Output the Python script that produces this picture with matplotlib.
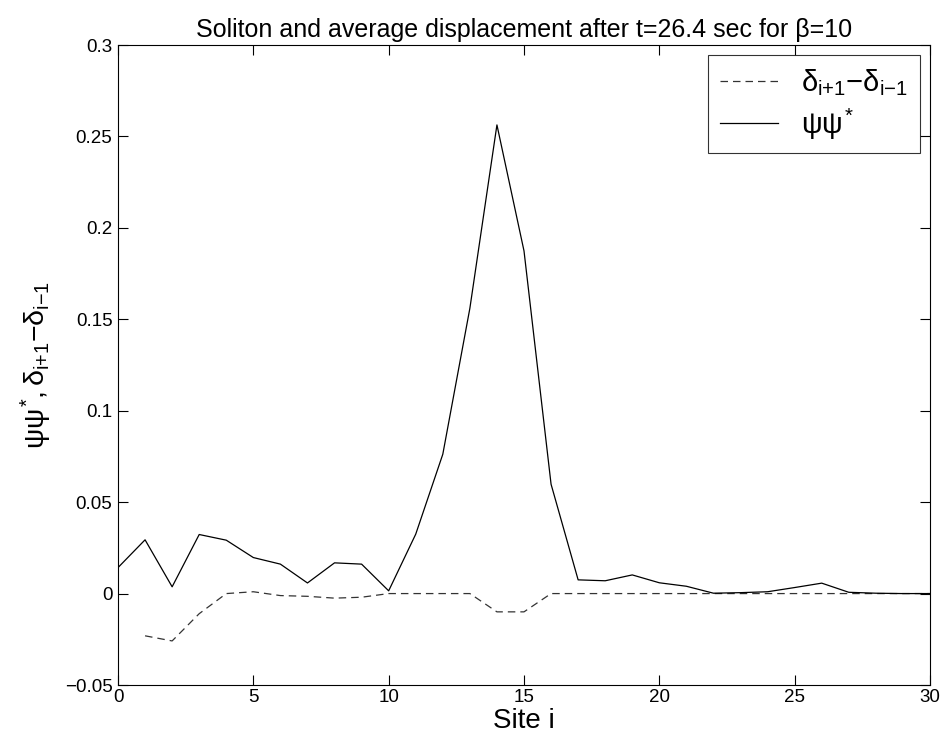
import matplotlib
matplotlib.use("Agg")
import matplotlib.pyplot as plt
import numpy as np

plt.rcParams['font.family'] = ['Liberation Sans', 'DejaVu Sans']
plt.rcParams['mathtext.fontset'] = 'custom'
plt.rcParams['mathtext.rm'] = 'Liberation Sans'
plt.rcParams['mathtext.it'] = 'Liberation Sans'
plt.rcParams['mathtext.bf'] = 'Liberation Sans:bold'
plt.rcParams['mathtext.sf'] = 'Liberation Sans'

sites = list(range(0, 31))
psi_sq = [0.0142, 0.0294, 0.0037, 0.0323, 0.0292, 0.0197, 0.0161, 0.0058, 0.0168, 0.0161,
          0.0015, 0.0325, 0.0762, 0.1560, 0.2563, 0.1874, 0.0598, 0.0075, 0.0070, 0.0102,
          0.0059, 0.0040, 0.0002, 0.0005, 0.0010, 0.0033, 0.0057, 0.0007, 0.0002, 0.0, 0.0]
delta_sites = list(range(1, 31))
delta_diff = [-0.0231, -0.0259, -0.0110, 0.0, 0.0010, -0.0011, -0.0015, -0.0025, -0.0020, 0.0,
              0.0, 0.0, 0.0, -0.0100, -0.0100, 0.0, 0.0, 0.0, 0.0, 0.0,
              0.0, 0.0, 0.0, 0.0, 0.0, 0.0, 0.0, 0.0, 0.0, 0.0]

fig = plt.figure(figsize=(9.41, 7.37), dpi=100)
ax = fig.add_axes([118/941, 1-685/737, (930-118)/941, (685-45)/737])

ax.plot(delta_sites, delta_diff, color='#333333', lw=0.9, linestyle=(0, (6, 4)),
        label=r'$\delta_{i\mathrm{+}1}\mathrm{-}\delta_{i\mathrm{-}1}$')
ax.plot(sites, psi_sq, color='black', lw=0.9, label=r'$\psi\psi^{*}$')

ax.set_xlim(0, 30)
ax.set_ylim(-0.05, 0.3)
ax.set_xticks([0, 5, 10, 15, 20, 25, 30])
ax.set_yticks([-0.05, 0, 0.05, 0.1, 0.15, 0.2, 0.25, 0.3])
ax.set_yticklabels(['\u22120.05', '0', '0.05', '0.1', '0.15', '0.2', '0.25', '0.3'])
ax.tick_params(direction='in', top=True, right=True, labelsize=13.5, length=7, width=0.8, pad=4)
ax.tick_params(axis='x', pad=3)
for s in ax.spines.values():
    s.set_linewidth(0.8)

ax.set_title('Soliton and average displacement after t=26.4 sec for \u03b2=10', fontsize=18, pad=6)
ax.set_xlabel('Site i', fontsize=20, labelpad=1)
ax.set_ylabel(r'$\psi\psi^{*}, \delta_{i\mathrm{+}1}\mathrm{-}\delta_{i\mathrm{-}1}$', fontsize=20.5, labelpad=8)

leg = ax.legend(loc='upper right', fontsize=21, frameon=True, fancybox=False,
                edgecolor='black', handlelength=2.0, borderaxespad=0.35, labelspacing=0.3,
                handletextpad=0.8, borderpad=0.4)
leg.get_frame().set_linewidth(0.8)

fig.savefig('out.png', dpi=100)
